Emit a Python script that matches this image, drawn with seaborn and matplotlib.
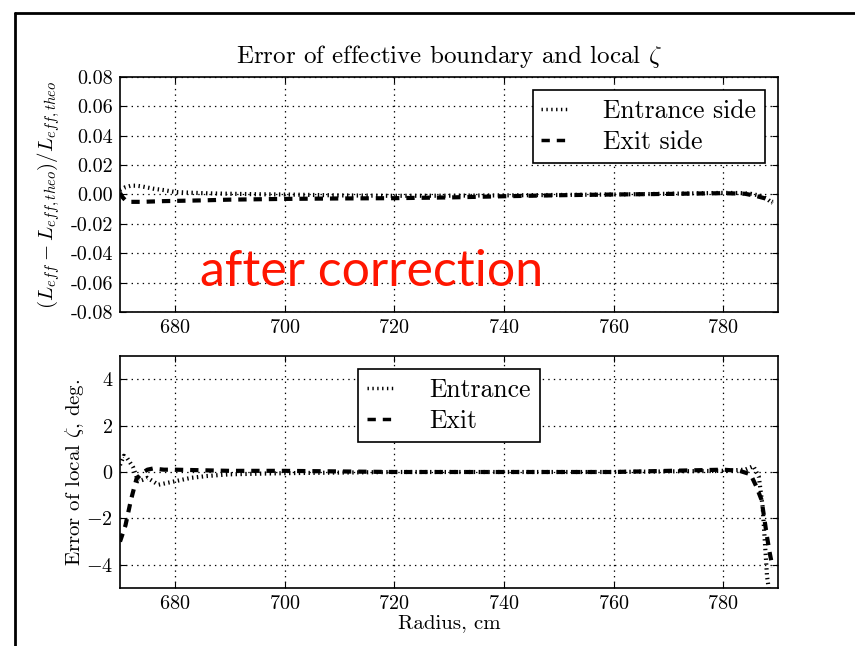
import numpy as np
import pandas as pd
import seaborn as sns
import matplotlib
matplotlib.use("Agg")
import matplotlib.pyplot as plt
from matplotlib.lines import Line2D

# ---------------- data ----------------
top_ent_x = [670, 671, 672, 673, 674, 676, 678, 680, 683, 686, 690, 695, 700, 710, 720, 730,
             740, 750, 760, 770, 775, 780, 783, 785, 787, 788, 789]
top_ent_y = [0.003, 0.005, 0.006, 0.006, 0.0055, 0.004, 0.003, 0.0017, 0.0012, 0.0008, 0.0005,
             0.0002, 0.0, -0.0006, -0.0009, -0.0008, -0.0006, -0.0003, 0.0, 0.0005, 0.0008,
             0.0011, 0.001, 0.0005, -0.001, -0.003, -0.006]
top_exit_x = [670, 670.5, 671, 672, 674, 678, 685, 690, 700, 710, 720, 730, 740, 750, 760,
              770, 780, 784, 786, 788, 789]
top_exit_y = [0.001, -0.002, -0.004, -0.005, -0.005, -0.0045, -0.004, -0.0035, -0.003,
              -0.0027, -0.0025, -0.002, -0.0012, -0.0005, 0.0, 0.0004, 0.0009, 0.0005,
              -0.001, -0.003, -0.005]

bot_ent_x = [670, 670.7, 671.3, 672.4, 673.3, 674, 675, 676, 677, 678, 680, 683, 686, 690,
             700, 720, 740, 760, 780, 784, 785.5, 786.5, 787.2, 787.6, 788, 788.3]
bot_ent_y = [0.3, 0.7, 0.6, 0.2, -0.4, -0.35, -0.25, -0.4, -0.55, -0.5, -0.4, -0.25, -0.17,
             -0.1, -0.05, 0.0, 0.0, 0.0, 0.05, 0.1, 0.25, -0.2, -1.5, -3.0, -4.5, -5.0]
bot_exit_x = [670, 671, 672, 673, 674, 675, 676, 678, 680, 690, 700, 720, 740, 760, 780,
              783, 785, 786, 787, 787.5, 788, 788.5, 789]
bot_exit_y = [-3.0, -2.3, -1.2, -0.3, -0.05, 0.1, 0.15, 0.1, 0.1, 0.05, 0.05, 0.0, 0.0, 0.0,
              0.1, 0.05, -0.1, -0.6, -1.2, -2.0, -2.8, -3.5, -4.1]

top_labels = ["Entrance side", "Exit side"]
bot_labels = ["Entrance", "Exit"]
title = r"Error of effective boundary and local $\zeta$"
top_ylabel = r"$(L_{eff}-L_{eff,theo})/L_{eff,theo}$"
bot_ylabel = r"Error of local $\zeta$, deg."
xlabel = "Radius, cm"
overlay = "after correction"

# ---------------- style ----------------
sns.set_style("ticks")
plt.rcParams.update({
    "font.family": ["cmr10", "DejaVu Serif"],
    "mathtext.fontset": "cm",
    "axes.formatter.use_mathtext": True,
    "axes.unicode_minus": True,
    "font.size": 14,
    "xtick.direction": "in",
    "ytick.direction": "in",
    "xtick.top": True,
    "ytick.right": True,
    "xtick.major.size": 4,
    "ytick.major.size": 4,
    "axes.linewidth": 1.2,
    "axes.edgecolor": "black",
    "xtick.color": "black",
    "ytick.color": "black",
    "text.color": "black",
    "axes.labelcolor": "black",
    "lines.scale_dashes": False,
})

fig = plt.figure(figsize=(8.55, 6.46), dpi=100)
ax1 = fig.add_axes([120/855, 1-312/646, (778-120)/855, 235/646])
ax2 = fig.add_axes([120/855, 1-588/646, (778-120)/855, 232/646])

lw = 3
dot_ls = (0, (1, 2.5))
dash_ls = (0, (6, 5))
sns.lineplot(x=top_ent_x, y=top_ent_y, ax=ax1, color="black", linestyle=dot_ls,
             linewidth=lw, label=top_labels[0])
sns.lineplot(x=top_exit_x, y=top_exit_y, ax=ax1, color="black", linestyle=dash_ls,
             linewidth=lw, label=top_labels[1])
sns.lineplot(x=bot_ent_x, y=bot_ent_y, ax=ax2, color="black", linestyle=dot_ls,
             linewidth=lw, label=bot_labels[0])
sns.lineplot(x=bot_exit_x, y=bot_exit_y, ax=ax2, color="black", linestyle=dash_ls,
             linewidth=lw, label=bot_labels[1])

ax1.set_xlim(670, 790)
ax1.set_ylim(-0.08, 0.08)
ax1.set_yticks(np.arange(-0.08, 0.081, 0.02))
ax1.set_xticks([680, 700, 720, 740, 760, 780])
ax1.yaxis.set_major_formatter(matplotlib.ticker.FormatStrFormatter("%.2f"))
ax2.set_xlim(670, 790)
ax2.set_ylim(-5, 5)
ax2.set_yticks([-4, -2, 0, 2, 4])
ax2.set_xticks([680, 700, 720, 740, 760, 780])

for ax in (ax1, ax2):
    ax.grid(True, color="black", linestyle=(0, (1, 3)), linewidth=0.9)
    for s in ax.spines.values():
        s.set_visible(True)
        s.set_linewidth(1.2)
    ax.tick_params(labelsize=14.5, pad=5)
    ax.set_axisbelow(False)

ax1.set_title(title, fontsize=18, pad=10)
ax1.set_ylabel(top_ylabel, fontsize=15, labelpad=6)
ax1.set_xlabel("")
ax2.set_ylabel(bot_ylabel, fontsize=15, labelpad=0)
ax2.set_xlabel(xlabel, fontsize=15, labelpad=1)

leg_kw = dict(fontsize=18.5, fancybox=False, edgecolor="black", framealpha=1,
              handlelength=1.1, handletextpad=1.3, borderpad=0.35, borderaxespad=0.5,
              labelspacing=0.3)
leg1 = ax1.legend(loc="upper right", **leg_kw)
leg2 = ax2.legend(loc="upper center", **leg_kw)
for leg in (leg1, leg2):
    leg.get_frame().set_linewidth(1.2)
    for h in leg.get_lines():
        h.set_linewidth(2.5)

ax1.text(200/855, 1-286/646, overlay, transform=fig.transFigure, color="#FF1500",
         fontsize=36, family="Lato", ha="left", va="baseline")

# slide frame
fig.add_artist(Line2D([15/855, 1], [1-13/646, 1-13/646], transform=fig.transFigure,
                      color="black", linewidth=2))
fig.add_artist(Line2D([15/855, 15/855], [0, 1-13/646], transform=fig.transFigure,
                      color="black", linewidth=2))

fig.savefig("out.png", dpi=100)
